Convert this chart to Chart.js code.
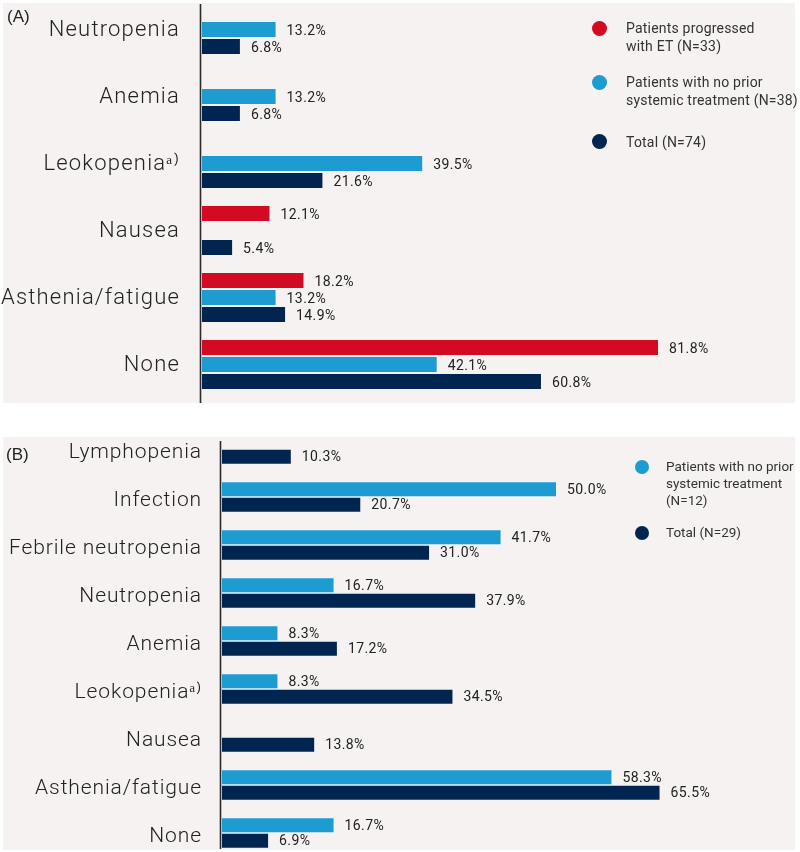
<!DOCTYPE html>
<html>
<head>
<meta charset="utf-8">
<script src="https://cdn.jsdelivr.net/npm/chart.js@4/dist/chart.umd.min.js"></script>
<style>
  html, body { margin: 0; padding: 0; background: #fff; overflow: hidden; }
  body { width: 800px; height: 852px; position: relative; font-family: Roboto, sans-serif; }
  .panel { position: absolute; background: #f5f2f1; }
  canvas { position: absolute; left: 0; }
  .tag { position: absolute; font-family: "Liberation Sans", Arial, sans-serif; font-size: 17px; color: #222; }
  .lg { position: absolute; color: #333; white-space: nowrap; }
  .dot { position: absolute; border-radius: 50%; }
</style>
</head>
<body>
<div class="panel" style="left:3px; top:3px; width:792px; height:400px;"></div>
<div class="panel" style="left:3px; top:437px; width:792px; height:413px;"></div>

<canvas id="chartA" width="800" height="414" style="top:-4px;"></canvas>
<canvas id="chartB" width="800" height="432" style="top:425px;"></canvas>

<div class="tag" style="left:7px; top:7px;">(A)</div>
<div class="tag" style="left:6px; top:445px;">(B)</div>

<!-- legend A -->
<div class="dot" style="left:592px; top:21px; width:15px; height:15px; background:#d20a22;"></div>
<div class="lg" style="left:626px; top:19px; font-size:14px; line-height:18px; letter-spacing:0.2px;">Patients progressed<br>with ET (N=33)</div>
<div class="dot" style="left:592px; top:75px; width:15px; height:15px; background:#1e9bd0;"></div>
<div class="lg" style="left:626px; top:73px; font-size:14px; line-height:18px; letter-spacing:0.2px;">Patients with no prior<br>systemic treatment (N=38)</div>
<div class="dot" style="left:592px; top:134px; width:15px; height:15px; background:#002550;"></div>
<div class="lg" style="left:626px; top:133px; font-size:14px; line-height:18px; letter-spacing:0.2px;">Total (N=74)</div>

<!-- legend B -->
<div class="dot" style="left:635px; top:460px; width:14px; height:14px; background:#1e9bd0;"></div>
<div class="lg" style="left:666px; top:458px; font-size:13.5px; line-height:17px;">Patients with no prior<br>systemic treatment<br>(N=12)</div>
<div class="dot" style="left:635px; top:526px; width:14px; height:14px; background:#002550;"></div>
<div class="lg" style="left:666px; top:524px; font-size:13.5px; line-height:17px;">Total (N=29)</div>

<script>
// ---- data (A) ----
const categoriesA = ['Neutropenia', 'Anemia', 'Leokopeniaᵃ⁾', 'Nausea', 'Asthenia/fatigue', 'None'];
const progressedA = [null, null, null, 12.1, 18.2, 81.8];
const noPriorA = [13.2, 13.2, 39.5, null, 13.2, 42.1];
const totalA = [6.8, 6.8, 21.6, 5.4, 14.9, 60.8];

// ---- data (B) ----
const categoriesB = ['Lymphopenia', 'Infection', 'Febrile neutropenia', 'Neutropenia', 'Anemia',
  'Leokopeniaᵃ⁾', 'Nausea', 'Asthenia/fatigue', 'None'];
const noPriorB = [null, 50.0, 41.7, 16.7, 8.3, 8.3, null, 58.3, 16.7];
const totalB = [10.3, 20.7, 31.0, 37.9, 17.2, 34.5, 13.8, 65.5, 6.9];

const RED = '#d20a22';
const LIGHT = '#1e9bd0';
const DARK = '#002550';

// 文字間隔 (DIN風)
const spacing = {
  id: 'spacing',
  beforeDraw(chart, args, opts) { chart.ctx.letterSpacing = opts.value; }
};

// 値ラベル
const valueLabels = {
  id: 'valueLabels',
  afterDatasetsDraw(chart, args, opts) {
    const ctx = chart.ctx;
    ctx.save();
    ctx.letterSpacing = '0.4px';
    ctx.font = opts.font;
    ctx.fillStyle = '#222';
    ctx.textBaseline = 'middle';
    chart.data.datasets.forEach((ds, i) => {
      chart.getDatasetMeta(i).data.forEach((bar, j) => {
        const v = ds.data[j];
        if (v == null) return;
        ctx.fillText(v.toFixed(1) + '%', bar.x + opts.gap, bar.y + opts.dy);
      });
    });
    ctx.restore();
  }
};

// 縦軸の線
const axisLine = {
  id: 'axisLine',
  afterDraw(chart, args, opts) {
    const ctx = chart.ctx;
    const x = chart.scales.x.getPixelForValue(0) - 1.5;
    ctx.save();
    ctx.strokeStyle = '#2a2a2a';
    ctx.lineWidth = 1.6;
    ctx.beginPath();
    ctx.moveTo(x, opts.top);
    ctx.lineTo(x, opts.bottom);
    ctx.stroke();
    ctx.restore();
  }
};

function makeChart(id, labels, datasets, cfg) {
  return new Chart(document.getElementById(id), {
    type: 'bar',
    data: { labels: labels, datasets: datasets },
    options: {
      indexAxis: 'y',
      responsive: false,
      animation: false,
      devicePixelRatio: 1,
      layout: { padding: { left: 0, right: cfg.padRight, top: 0, bottom: cfg.padBottom } },
      datasets: {
        bar: { categoryPercentage: cfg.catPct, barPercentage: cfg.barPct, borderWidth: 0 }
      },
      scales: {
        x: { display: false, min: 0, max: cfg.max },
        y: {
          grid: { display: false, drawTicks: false },
          border: { display: false },
          ticks: {
            color: '#222',
            padding: cfg.tickPad,
            labelOffset: cfg.labelOffset,
            font: { family: 'Roboto', size: cfg.tickSize, weight: '300' }
          },
          afterFit(scale) {
            scale.width = cfg.left;
            // ラベル分の上下余白を無くす
            scale.paddingTop = 0;
            scale.paddingBottom = 0;
          }
        }
      },
      plugins: {
        legend: { display: false },
        tooltip: { enabled: false },
        spacing: { value: cfg.spacing },
        valueLabels: { font: '400 14px Roboto', gap: 11, dy: cfg.labelDy },
        axisLine: { top: cfg.axisTop, bottom: cfg.axisBottom }
      }
    },
    plugins: [spacing, valueLabels, axisLine]
  });
}

window.onload = () => {
  makeChart('chartA', categoriesA, [
    { label: 'Patients progressed with ET (N=33)', data: progressedA, backgroundColor: RED },
    { label: 'Patients with no prior systemic treatment (N=38)', data: noPriorA, backgroundColor: LIGHT },
    { label: 'Total (N=74)', data: totalA, backgroundColor: DARK }
  ], { left: 202, padRight: 40.5, padBottom: 12, max: 100, catPct: 0.761, barPct: 0.882,
       tickPad: 22, tickSize: 22, spacing: '1.2px', labelOffset: 1, labelDy: 2, axisTop: 8, axisBottom: 407 });

  makeChart('chartB', categoriesB, [
    { label: 'Patients with no prior systemic treatment (N=12)', data: noPriorB, backgroundColor: LIGHT },
    { label: 'Total (N=29)', data: totalB, backgroundColor: DARK }
  ], { left: 222, padRight: 43.6, padBottom: 0, max: 80, catPct: 0.646, barPct: 0.9,
       tickPad: 20, tickSize: 21, spacing: '0.9px', labelOffset: 4, labelDy: 1, axisTop: 16, axisBottom: 424 });
};
</script>
</body>
</html>
